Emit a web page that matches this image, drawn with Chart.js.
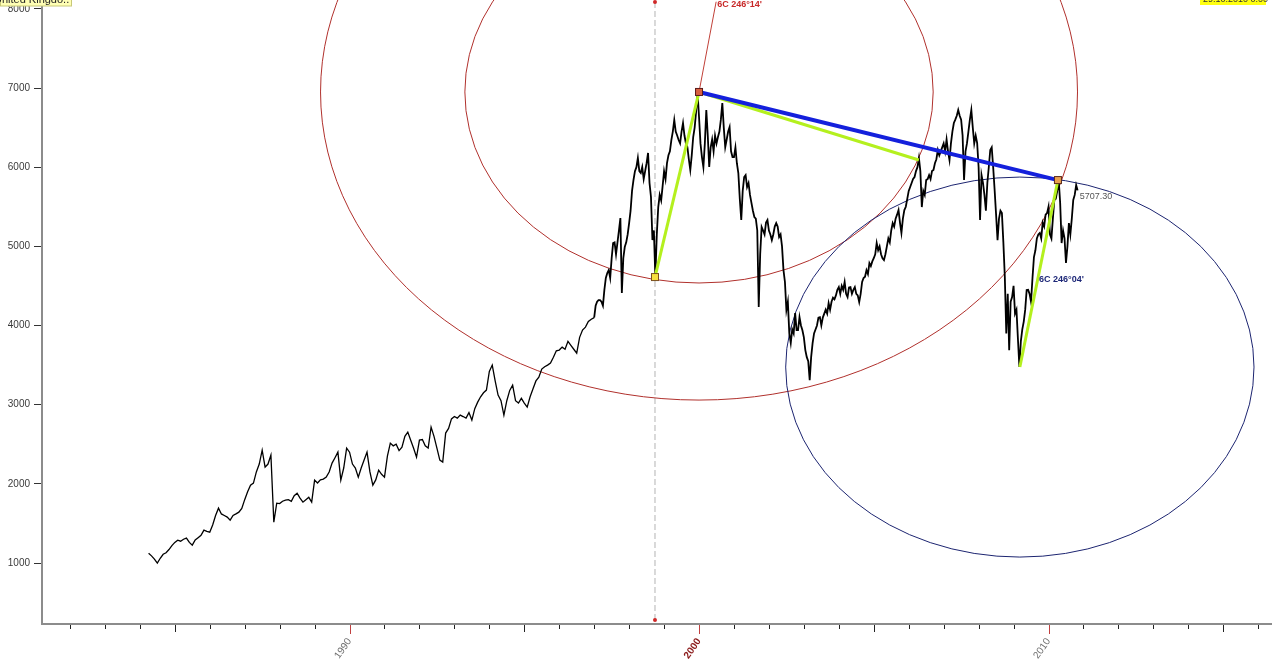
<!DOCTYPE html>
<html>
<head>
<meta charset="utf-8">
<title>FTSE 100</title>
<script src="https://cdn.jsdelivr.net/npm/chart.js@4.4.1/dist/chart.umd.min.js"></script>
<style>
  html, body { margin: 0; padding: 0; background: #fff; }
  canvas { display: block; }
</style>
</head>
<body>
<canvas id="grafico" width="1272" height="670"></canvas>
<script>
// valores mensais 1984-1996 (1984 comeca em abril)
const ftse1984 = [1124, 1090, 1050, 998, 1060, 1110, 1130, 1170, 1220];
const ftse1985 = [1260, 1288, 1275, 1300, 1314, 1260, 1225, 1290, 1320, 1350, 1415, 1400];
const ftse1986 = [1390, 1480, 1600, 1693, 1620, 1600, 1580, 1541, 1600, 1620, 1642, 1690];
const ftse1987 = [1800, 1900, 1983, 2009, 2150, 2250, 2426, 2211, 2250, 2363, 1516, 1756];
const ftse1988 = [1750, 1780, 1794, 1800, 1780, 1850, 1882, 1820, 1769, 1800, 1830, 1769];
const ftse1989 = [2047, 2010, 2050, 2060, 2085, 2150, 2262, 2330, 2401, 2047, 2200, 2451];
const ftse1990 = [2400, 2250, 2200, 2085, 2200, 2300, 2401, 2150, 1983, 2050, 2173, 2120];
const ftse1991 = [2085, 2350, 2514, 2480, 2500, 2420, 2464, 2600, 2653, 2550, 2450, 2337];
const ftse1992 = [2552, 2560, 2480, 2452, 2716, 2600, 2450, 2300, 2274, 2641, 2700, 2820];
const ftse1993 = [2850, 2830, 2868, 2850, 2830, 2900, 2805, 2950, 3032, 3100, 3150, 3184];
const ftse1994 = [3420, 3500, 3300, 3121, 3050, 2868, 3050, 3180, 3247, 3050, 3020, 3080];
const ftse1995 = [3020, 2969, 3100, 3200, 3300, 3348, 3450, 3480, 3500, 3525, 3600, 3680];
const ftse1996 = [3690, 3727, 3700, 3800, 3750, 3700, 3651, 3850, 3942, 3980, 4050, 4080];

// valores quinzenais 1997-2010
const ftse1997 = [4100, 4250, 4300, 4320, 4321, 4300, 4250, 4450, 4600, 4662, 4700, 4600, 4850, 5041, 5050, 4900, 5050, 5200, 5357, 4410, 4850, 4991, 5050, 5150];
const ftse1998 = [5294, 5450, 5700, 5838, 5950, 6000, 6115, 5950, 5926, 6002, 5850, 5950, 6050, 6179, 5800, 5623, 5079, 5200, 4612, 5150, 5496, 5650, 5580, 5760];
const ftse1999 = [5950, 5850, 6052, 6150, 6200, 6343, 6450, 6596, 6450, 6400, 6343, 6300, 6450, 6558, 6400, 6300, 6254, 6100, 5964, 6150, 6381, 6500, 6700, 6937];
const ftse2000 = [6634, 6300, 6128, 6000, 6300, 6722, 6400, 6002, 6250, 6350, 6200, 6400, 6300, 6381, 6450, 6600, 6810, 6500, 6254, 6350, 6450, 6507, 6200, 6128];
const ftse2001 = [6128, 6250, 6050, 5926, 5600, 5332, 5700, 5875, 5900, 5749, 5800, 5650, 5550, 5450, 5370, 5350, 5200, 4233, 4900, 5244, 5200, 5150, 5300, 5332];
const ftse2002 = [5200, 5150, 5079, 5150, 5250, 5294, 5250, 5117, 5150, 5000, 4700, 4550, 4195, 4300, 3900, 3778, 3950, 3900, 4157, 3942, 3942, 4106, 4000, 3940];
const ftse2003 = [3850, 3689, 3600, 3550, 3310, 3600, 3778, 3900, 3950, 4000, 4100, 4106, 4000, 4100, 4150, 4200, 4150, 4283, 4200, 4300, 4350, 4330, 4380, 4450];
const ftse2004 = [4485, 4400, 4500, 4450, 4550, 4400, 4359, 4480, 4485, 4400, 4450, 4485, 4400, 4380, 4296, 4400, 4550, 4600, 4616, 4700, 4650, 4789, 4750, 4810];
const ftse2005 = [4850, 4900, 5041, 4950, 5000, 4900, 4850, 4827, 4900, 5000, 5100, 5050, 5200, 5294, 5250, 5350, 5400, 5458, 5300, 5168, 5350, 5458, 5500, 5600];
const ftse2006 = [5700, 5750, 5800, 5850, 5875, 5950, 6000, 6115, 5950, 5496, 5700, 5650, 5838, 5850, 5900, 5850, 5950, 5964, 6050, 6100, 6217, 6150, 6200, 6250];
const ftse2007 = [6300, 6200, 6350, 6200, 6090, 6300, 6450, 6558, 6600, 6650, 6722, 6650, 6600, 6400, 5838, 6200, 6300, 6450, 6600, 6722, 6500, 6300, 6400, 6305];
const ftse2008 = [6000, 5332, 5900, 5800, 5650, 5450, 5800, 6002, 6217, 6250, 6000, 5711, 5400, 5079, 5350, 5450, 5420, 5050, 4612, 3900, 4400, 3689, 4300, 4359];
const ftse2009 = [4500, 4150, 4200, 3830, 3475, 3800, 3950, 4050, 4200, 4447, 4450, 4400, 4300, 4600, 4865, 4950, 5100, 5150, 5168, 5100, 5300, 5250, 5400, 5420];
const ftse2010 = [5500, 5150, 5100, 5350, 5585, 5600, 5700, 5837, 5550, 5041, 5200, 5100, 4789, 5000, 5294, 5150, 5350, 5585, 5650, 5774, 5707];

// pivos do desenho (ano, pontos)
const pivo1998 = [1998.74, 4612];
const pivo2000 = [2000.0, 6950];
const pivo2006 = [2006.29, 6090];
const pivo2009 = [2009.18, 3475];
const pivo2010 = [2010.27, 5837];
const fimLinhaVermelha = [2000.49, 8090];
const textoNavy = [2009.73, 4575];

// raios das elipses (anos, pontos)
const raioGrande = [10.83, 3892];
const raioPequeno = [6.70, 2413];
const raioNavy = [6.70, 2400];

const ultimoValor = "5707.30";
const yTicks = [1000, 2000, 3000, 4000, 5000, 6000, 7000, 8000];
const xLabels = [1990, 2000, 2010];
const anoIni = 1982, anoFim = 2016;

const fonte = "'Liberation Sans', Arial, sans-serif";

// monta os pontos da serie
const mensais = [[1984, ftse1984], [1985, ftse1985], [1986, ftse1986], [1987, ftse1987], [1988, ftse1988],
  [1989, ftse1989], [1990, ftse1990], [1991, ftse1991], [1992, ftse1992], [1993, ftse1993],
  [1994, ftse1994], [1995, ftse1995], [1996, ftse1996]];
const quinzenais = [[1997, ftse1997], [1998, ftse1998], [1999, ftse1999], [2000, ftse2000], [2001, ftse2001],
  [2002, ftse2002], [2003, ftse2003], [2004, ftse2004], [2005, ftse2005], [2006, ftse2006],
  [2007, ftse2007], [2008, ftse2008], [2009, ftse2009], [2010, ftse2010]];

const pontos = [];
mensais.forEach(([ano, vals]) => {
  const desloc = 12 - vals.length;
  vals.forEach((v, i) => pontos.push({ x: ano + (desloc + i) / 12, y: v }));
});
quinzenais.forEach(([ano, vals]) => {
  vals.forEach((v, i) => pontos.push({ x: ano + i / 24, y: v }));
});

const anos = [];
for (let a = anoIni; a <= anoFim; a++) anos.push(a);

function px(chart, p) {
  return [chart.scales.x.getPixelForValue(p[0]), chart.scales.y.getPixelForValue(p[1])];
}

function elipse(chart, centro, raio, cor) {
  const [cx, cy] = px(chart, centro);
  const rx = Math.abs(chart.scales.x.getPixelForValue(centro[0] + raio[0]) - cx);
  const ry = Math.abs(chart.scales.y.getPixelForValue(centro[1] + raio[1]) - cy);
  const ctx = chart.ctx;
  ctx.beginPath();
  ctx.ellipse(cx, cy, rx, ry, 0, 0, Math.PI * 2);
  ctx.strokeStyle = cor;
  ctx.lineWidth = 1;
  ctx.stroke();
}

function linha(chart, a, b, cor, largura) {
  const ctx = chart.ctx;
  const pa = px(chart, a), pb = px(chart, b);
  ctx.beginPath();
  ctx.moveTo(pa[0], pa[1]);
  ctx.lineTo(pb[0], pb[1]);
  ctx.strokeStyle = cor;
  ctx.lineWidth = largura;
  ctx.stroke();
}

function quadrado(chart, p, fundo, borda) {
  const ctx = chart.ctx;
  const [x, y] = px(chart, p);
  ctx.fillStyle = fundo;
  ctx.fillRect(x - 3.5, y - 3.5, 7, 7);
  ctx.strokeStyle = borda;
  ctx.lineWidth = 1;
  ctx.strokeRect(x - 3.5, y - 3.5, 7, 7);
}

const desenhos = {
  id: 'desenhos',
  beforeDatasetsDraw(chart) {
    const ctx = chart.ctx;
    const area = chart.chartArea;
    ctx.save();
    // linha vertical tracejada
    const xv = chart.scales.x.getPixelForValue(pivo1998[0]);
    ctx.setLineDash([6, 3]);
    ctx.strokeStyle = '#b4b4b4';
    ctx.lineWidth = 1;
    ctx.beginPath();
    ctx.moveTo(xv, area.top + 2);
    ctx.lineTo(xv, area.bottom - 4);
    ctx.stroke();
    ctx.setLineDash([]);
    ctx.fillStyle = '#d02828';
    [area.top + 2, area.bottom - 4].forEach(y => {
      ctx.beginPath();
      ctx.arc(xv, y, 2, 0, Math.PI * 2);
      ctx.fill();
    });

    elipse(chart, pivo2000, raioGrande, '#b0302c');
    elipse(chart, pivo2000, raioPequeno, '#b0302c');
    elipse(chart, pivo2009, raioNavy, '#1c2470');
    linha(chart, pivo2000, fimLinhaVermelha, '#c04038', 1);
    ctx.restore();
  },
  afterDatasetsDraw(chart) {
    const ctx = chart.ctx;
    ctx.save();
    linha(chart, pivo1998, pivo2000, '#b4f01e', 3);
    linha(chart, pivo2000, pivo2006, '#b4f01e', 3);
    linha(chart, pivo2009, pivo2010, '#b4f01e', 3);
    linha(chart, pivo2000, pivo2010, '#1420dc', 4);
    quadrado(chart, pivo1998, '#f8e040', '#7a5020');
    quadrado(chart, pivo2000, '#d86040', '#5a1a1a');
    quadrado(chart, pivo2010, '#e8a050', '#5a2a1a');

    ctx.textBaseline = 'middle';
    ctx.textAlign = 'left';
    ctx.font = 'bold 9px ' + fonte;
    ctx.fillStyle = '#c82828';
    const pf = px(chart, fimLinhaVermelha);
    ctx.fillText("6C 246°14'", pf[0] + 1, pf[1] + 3);
    ctx.fillStyle = '#1e2878';
    const pn = px(chart, textoNavy);
    ctx.fillText("6C 246°04'", pn[0], pn[1]);

    const ult = pontos[pontos.length - 1];
    const pu = px(chart, [ult.x, ult.y]);
    ctx.font = '9px ' + fonte;
    ctx.fillStyle = '#555';
    ctx.fillText(ultimoValor, pu[0] + 2, pu[1] + 6);
    ctx.restore();
  },
  afterDraw(chart) {
    const ctx = chart.ctx;
    const sx = chart.scales.x;
    const base = chart.chartArea.bottom + 1;
    ctx.save();
    // marcas do eixo x
    anos.forEach(a => {
      const x = Math.round(sx.getPixelForValue(a)) + 0.5;
      let tam = 4, cor = '#222';
      if (a % 10 === 0) { tam = 9; cor = '#c04040'; }
      else if (a % 5 === 0) { tam = 7; }
      ctx.beginPath();
      ctx.moveTo(x, base);
      ctx.lineTo(x, base + tam);
      ctx.strokeStyle = cor;
      ctx.lineWidth = 1;
      ctx.stroke();
    });

    // caixas cortadas no topo
    ctx.fillStyle = '#ffffb4';
    ctx.fillRect(0, -2, 72, 8);
    ctx.strokeStyle = '#c8c878';
    ctx.strokeRect(0.5, -2, 71, 8);
    ctx.fillStyle = '#222';
    ctx.font = '11px ' + fonte;
    ctx.textBaseline = 'alphabetic';
    ctx.textAlign = 'left';
    ctx.fillText('United Kingdo..', -6, 3);

    ctx.fillStyle = '#ffff10';
    ctx.fillRect(1200, -2, 66, 7);
    ctx.fillStyle = '#333';
    ctx.font = '9px ' + fonte;
    ctx.fillText('29.10.2010 0:00', 1203, 2);
    ctx.restore();
  }
};

const ctx = document.getElementById('grafico');

new Chart(ctx, {
  type: 'line',
  data: {
    datasets: [{
      label: 'FTSE 100',
      data: pontos,
      borderColor: '#000',
      borderWidth: 1.3,
      pointRadius: 0,
      tension: 0,
      segment: {
        // trecho mais volatil fica mais grosso
        borderWidth: c => c.p0.parsed.x >= 1997 ? 1.8 : 1.3
      }
    }]
  },
  options: {
    responsive: false,
    animation: false,
    layout: { padding: 0 },
    plugins: {
      legend: { display: false },
      tooltip: { enabled: false }
    },
    scales: {
      x: {
        type: 'linear',
        min: 1981.2,
        max: 2016.395,
        afterBuildTicks: s => { s.ticks = anos.map(v => ({ value: v })); },
        afterFit: s => { s.height = 46; s.paddingLeft = 0; s.paddingRight = 0; },
        grid: { display: true, drawOnChartArea: false, drawTicks: false, color: 'rgba(0,0,0,0)' },
        border: { display: true, color: '#8c8c8c', width: 2 },
        ticks: {
          autoSkip: false,
          minRotation: 55,
          maxRotation: 55,
          padding: 12,
          callback: v => xLabels.includes(v) ? String(v) : '',
          color: c => c.tick && c.tick.value === 2000 ? '#8b1a1a' : '#6e6e6e',
          font: c => ({ family: fonte, size: 10, weight: c.tick && c.tick.value === 2000 ? 'bold' : 'normal' })
        }
      },
      y: {
        min: 229.5,
        max: 8111.6,
        afterBuildTicks: s => { s.ticks = yTicks.map(v => ({ value: v })); },
        afterFit: s => { s.width = 42; s.paddingTop = 0; s.paddingBottom = 0; },
        grid: { drawOnChartArea: false, drawTicks: true, tickLength: 8, color: '#333' },
        border: { display: true, color: '#8c8c8c', width: 2 },
        ticks: {
          padding: 4,
          color: '#3a3a3a',
          font: { family: fonte, size: 10 },
          callback: v => String(v)
        }
      }
    }
  },
  plugins: [desenhos]
});
</script>
</body>
</html>
